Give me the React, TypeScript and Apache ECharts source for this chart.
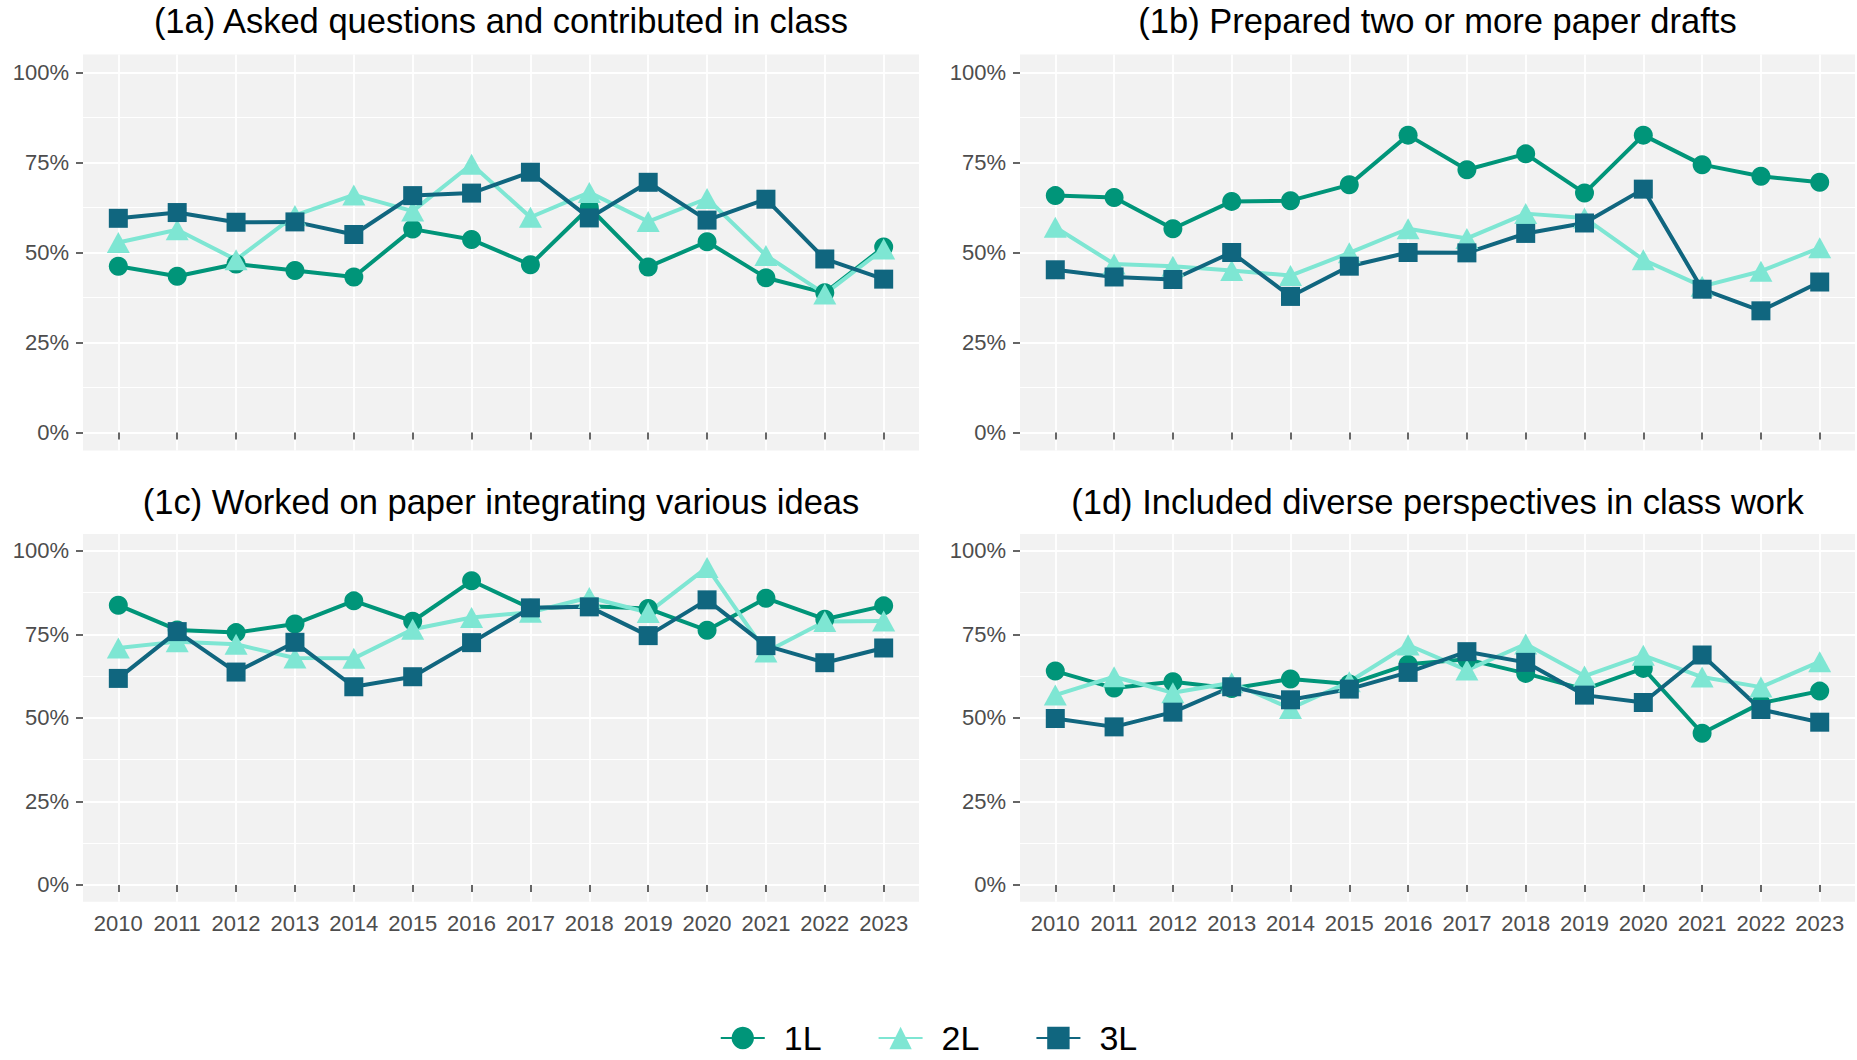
import React, { useEffect, useRef } from "react";
import * as echarts from "echarts";

const years = [2010, 2011, 2012, 2013, 2014, 2015, 2016, 2017, 2018, 2019, 2020, 2021, 2022, 2023];
const yTicks = [0, 25, 50, 75, 100];
const yMinor = [12.5, 37.5, 62.5, 87.5];
const seriesNames = ["1L", "2L", "3L"];
const seriesColors = ["#009579", "#7EE6D3", "#10667F"];
const seriesSymbols = ["circle", "triangle", "rect"];
const panelTitles = [
  "(1a) Asked questions and contributed in class",
  "(1b) Prepared two or more paper drafts",
  "(1c) Worked on paper integrating various ideas",
  "(1d) Included diverse perspectives in class work",
];

// (1a)
const a1L = [46.2, 43.4, 46.8, 45.0, 43.2, 56.5, 53.6, 46.6, 62.5, 46.0, 53.0, 43.0, 38.8, 51.5];
const a2L = [52.8, 56.3, 48.0, 60.3, 66.0, 61.5, 74.5, 59.8, 66.7, 58.6, 65.0, 49.2, 38.5, 51.0];
const a3L = [59.5, 61.1, 58.4, 58.5, 55.0, 65.8, 66.5, 72.3, 59.6, 69.5, 59.0, 64.8, 48.2, 42.6];
// (1b)
const b1L = [65.8, 65.3, 56.6, 64.2, 64.4, 68.8, 82.6, 73.0, 77.4, 66.5, 82.6, 74.4, 71.2, 69.5];
const b2L = [57.0, 46.8, 46.2, 45.0, 43.6, 49.9, 56.6, 53.9, 60.8, 59.6, 48.0, 40.6, 44.8, 51.3];
const b3L = [45.2, 43.2, 42.5, 50.0, 37.8, 46.2, 50.0, 49.9, 55.3, 58.2, 67.6, 39.8, 33.8, 41.8];
// (1c)
const c1L = [83.7, 76.3, 75.5, 78.1, 85.0, 78.9, 91.0, 82.8, 83.4, 82.7, 76.2, 85.8, 79.5, 83.5];
const c2L = [70.9, 72.8, 72.0, 67.9, 67.8, 76.5, 80.0, 81.6, 86.0, 81.5, 95.0, 69.7, 78.8, 79.0];
const c3L = [61.8, 75.8, 63.7, 72.6, 59.3, 62.3, 72.5, 82.9, 83.2, 74.6, 85.3, 71.6, 66.5, 70.9];
// (1d)
const d1L = [64.0, 58.9, 60.8, 58.8, 61.6, 60.1, 66.0, 67.5, 63.3, 58.5, 64.8, 45.4, 54.4, 58.0];
const d2L = [56.8, 62.3, 57.5, 60.5, 52.8, 60.8, 71.8, 64.3, 72.1, 62.5, 68.7, 62.2, 59.2, 66.8];
const d3L = [49.8, 47.3, 51.7, 59.3, 55.4, 58.6, 63.6, 69.8, 66.6, 56.8, 54.6, 68.8, 52.5, 48.7];

const panels = [
  [a1L, a2L, a3L],
  [b1L, b2L, b3L],
  [c1L, c2L, c3L],
  [d1L, d2L, d3L],
];

const FONT = "'Liberation Sans', Arial, sans-serif";

export default function App() {
  const ref = useRef<HTMLDivElement>(null);

  useEffect(() => {
    if (!ref.current) return;
    const chart = echarts.init(ref.current, null, { renderer: "svg" });

    const gridLayouts = [
      { left: 83, top: 54.5, width: 836, height: 396 },
      { left: 1020, top: 54.5, width: 835, height: 396 },
      { left: 83, top: 534, width: 836, height: 367.7 },
      { left: 1020, top: 534, width: 835, height: 367.7 },
    ];
    const titlePos = [
      [501, 20.7],
      [1437.5, 20.7],
      [501, 502.3],
      [1437.5, 502.3],
    ];

    const grid = gridLayouts.map((g) => ({
      ...g,
      show: true,
      backgroundColor: "#F2F2F2",
      borderWidth: 0,
      containLabel: false,
    }));

    const xAxis = gridLayouts.map((_, i) => ({
      gridIndex: i,
      type: "value",
      min: 2009.4,
      max: 2023.6,
      axisLine: { show: false },
      axisTick: {
        show: true,
        length: 7,
        customValues: years,
        lineStyle: { color: "#333333", width: 1.5 },
      },
      axisLabel: {
        show: i >= 2,
        customValues: years,
        formatter: (v: number) => String(v),
        margin: 11,
        fontSize: 22,
        fontFamily: FONT,
        color: "#4D4D4D",
      },
      splitLine: { show: true, lineStyle: { color: "#FFFFFF", width: 1.8 } },
    }));

    const yAxis: any[] = [];
    gridLayouts.forEach((_, i) => {
      yAxis.push({
        gridIndex: i,
        type: "value",
        min: -5,
        max: 105,
        position: "left",
        axisLine: { show: false },
        axisTick: {
          show: true,
          length: 7,
          customValues: yTicks,
          lineStyle: { color: "#333333", width: 1.5 },
        },
        axisLabel: {
          show: true,
          customValues: yTicks,
          formatter: (v: number) => `${v}%`,
          margin: 14,
          fontSize: 22,
          fontFamily: FONT,
          color: "#4D4D4D",
        },
        splitLine: { show: true, lineStyle: { color: "#FFFFFF", width: 1.8 } },
      });
    });
    gridLayouts.forEach((_, i) => {
      yAxis.push({
        gridIndex: i,
        type: "value",
        min: -5,
        max: 105,
        position: "left",
        axisLine: { show: false },
        axisTick: { show: false, customValues: yMinor },
        axisLabel: { show: false, customValues: yMinor },
        splitLine: { show: true, lineStyle: { color: "#FFFFFF", width: 1 } },
      });
    });

    const series: any[] = [];
    // lines first (under all points)
    panels.forEach((panel, p) => {
      panel.forEach((vals, s) => {
        series.push({
          type: "line",
          name: seriesNames[s],
          xAxisIndex: p,
          yAxisIndex: p,
          data: years.map((y, k) => [y, vals[k]]),
          symbol: seriesSymbols[s],
          showSymbol: false,
          color: seriesColors[s],
          lineStyle: { color: seriesColors[s], width: 4 },
          itemStyle: { color: seriesColors[s] },
          z: 2,
          silent: true,
        });
      });
    });
    panels.forEach((panel, p) => {
      panel.forEach((vals, s) => {
        series.push({
          type: "scatter",
          name: seriesNames[s],
          xAxisIndex: p,
          yAxisIndex: p,
          data: years.map((y, k) => [y, vals[k]]),
          symbol: seriesSymbols[s],
          symbolSize: s === 1 ? [23, 21] : 19,
          itemStyle: { color: seriesColors[s], opacity: 1 },
          z: 3 + s,
          silent: true,
        });
      });
    });

    const graphic = panelTitles.map((t, i) => ({
      type: "text",
      x: titlePos[i][0],
      y: titlePos[i][1],
      style: {
        text: t,
        fontSize: 34.5,
        fontFamily: FONT,
        fill: "#000000",
        align: "center",
        verticalAlign: "middle",
        textAlign: "center",
        textVerticalAlign: "middle",
      },
    }));

    chart.setOption({
      animation: false,
      backgroundColor: "#FFFFFF",
      grid,
      xAxis,
      yAxis,
      series,
      graphic,
      legend: {
        data: seriesNames,
        left: "center",
        top: 1016,
        itemWidth: 44,
        itemHeight: 28,
        itemGap: 56,
        selectedMode: false,
        textStyle: {
          fontSize: 34,
          fontFamily: FONT,
          color: "#000000",
          padding: [0, 0, 0, 14],
        },
      },
    });

    return () => {
      chart.dispose();
    };
  }, []);

  return (
    <div
      ref={ref}
      style={{ position: "fixed", left: 0, top: 0, width: 1857, height: 1060, background: "#fff" }}
    />
  );
}
